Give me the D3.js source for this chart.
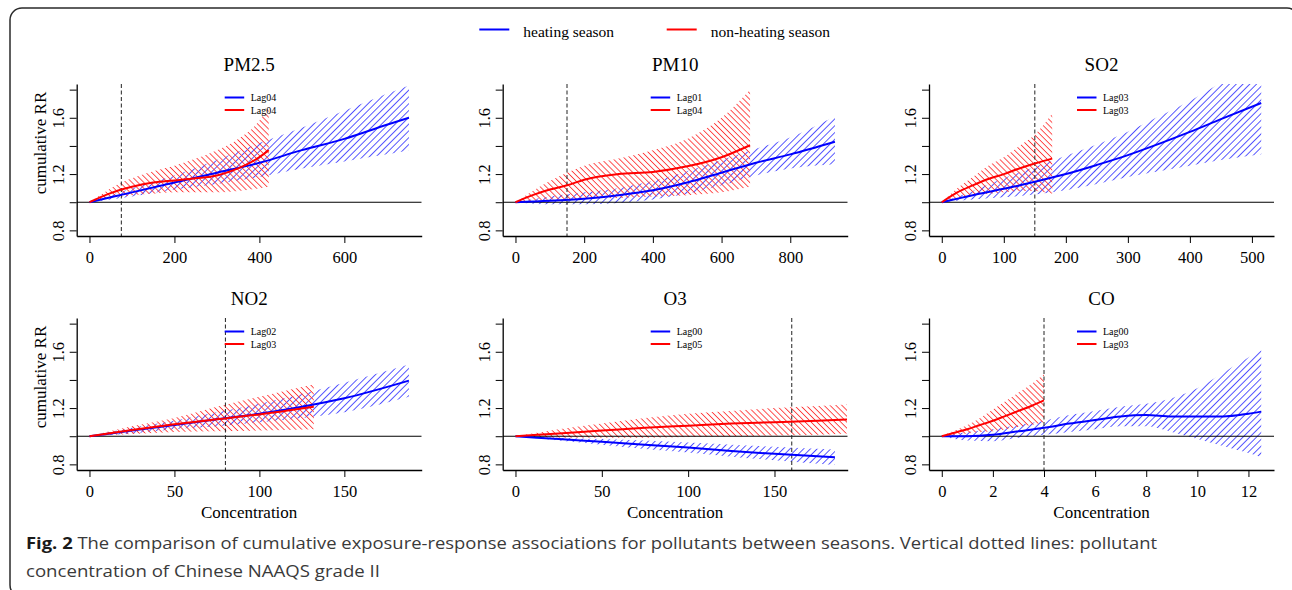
<!DOCTYPE html>
<html>
<head>
<meta charset="utf-8">
<script src="https://cdn.jsdelivr.net/npm/d3@7"></script>
<style>
  body { margin: 0; background: #fff; }
  svg { display: block; }
</style>
</head>
<body>
<script>
// panel order: PM2.5, PM10, SO2, NO2, O3, CO
const pollutants = ["PM2.5", "PM10", "SO2", "NO2", "O3", "CO"];
const heatingLags = ["Lag04", "Lag01", "Lag03", "Lag02", "Lag00", "Lag00"];
const nonHeatingLags = ["Lag04", "Lag04", "Lag03", "Lag03", "Lag05", "Lag03"];
const standards = [75, 150, 150, 80, 160, 4]; // NAAQS grade II
const xTickValues = [
  [0, 200, 400, 600],
  [0, 200, 400, 600, 800],
  [0, 100, 200, 300, 400, 500],
  [0, 50, 100, 150],
  [0, 50, 100, 150],
  [0, 2, 4, 6, 8, 10, 12]
];
const yTickValues = [0.8, 1.0, 1.2, 1.4, 1.6, 1.8];
const yTickLabels = ["0.8", "", "1.2", "", "1.6", ""];
const yLimits = [0.8, 1.8];

// heating season: concentration, cumulative RR, lower and upper CI
const heatingX = [
  [0, 100, 200, 300, 400, 500, 600, 700, 752],
  [0, 100, 200, 300, 400, 500, 600, 700, 800, 930],
  [0, 50, 100, 150, 200, 250, 300, 350, 400, 450, 515],
  [0, 25, 50, 75, 100, 125, 150, 188],
  [0, 25, 50, 75, 100, 125, 150, 185],
  [0, 1, 2, 3, 4, 5, 6, 7, 8, 9, 10, 11, 12, 12.5]
];
const heatingRR = [
  [1.0, 1.07, 1.14, 1.21, 1.28, 1.37, 1.45, 1.55, 1.60],
  [1.0, 1.01, 1.025, 1.05, 1.085, 1.14, 1.21, 1.28, 1.34, 1.43],
  [1.0, 1.05, 1.095, 1.145, 1.20, 1.265, 1.335, 1.415, 1.50, 1.59, 1.705],
  [1.0, 1.04, 1.08, 1.12, 1.16, 1.21, 1.27, 1.395],
  [1.0, 0.98, 0.96, 0.94, 0.92, 0.895, 0.875, 0.85],
  [1.0, 1.0, 1.01, 1.035, 1.06, 1.09, 1.115, 1.14, 1.15, 1.14, 1.14, 1.14, 1.16, 1.175]
];
const heatingLow = [
  [1.0, 1.04, 1.09, 1.13, 1.18, 1.24, 1.29, 1.34, 1.37],
  [1.0, 0.985, 0.985, 0.995, 1.02, 1.06, 1.12, 1.19, 1.24, 1.27],
  [1.0, 1.02, 1.035, 1.055, 1.085, 1.13, 1.18, 1.22, 1.26, 1.30, 1.34],
  [1.0, 1.02, 1.05, 1.07, 1.10, 1.13, 1.17, 1.28],
  [1.0, 0.97, 0.94, 0.91, 0.885, 0.855, 0.83, 0.795],
  [1.0, 0.97, 0.965, 0.99, 1.01, 1.03, 1.05, 1.07, 1.07, 1.03, 0.98, 0.93, 0.88, 0.85]
];
const heatingHigh = [
  [1.0, 1.10, 1.19, 1.30, 1.42, 1.53, 1.65, 1.77, 1.83],
  [1.0, 1.04, 1.07, 1.10, 1.15, 1.22, 1.30, 1.38, 1.46, 1.61],
  [1.0, 1.08, 1.17, 1.25, 1.33, 1.41, 1.50, 1.61, 1.72, 1.85, 2.05],
  [1.0, 1.06, 1.11, 1.17, 1.23, 1.30, 1.38, 1.51],
  [1.0, 0.99, 0.98, 0.97, 0.955, 0.94, 0.925, 0.905],
  [1.0, 1.03, 1.05, 1.08, 1.11, 1.15, 1.18, 1.21, 1.23, 1.27, 1.34, 1.45, 1.56, 1.61]
];

// non-heating season
const nonHeatingX = [
  [0, 25, 50, 75, 100, 150, 200, 250, 300, 350, 400, 422],
  [0, 50, 100, 150, 200, 300, 400, 500, 600, 683],
  [0, 25, 50, 75, 100, 125, 150, 178],
  [0, 25, 50, 75, 100, 132],
  [0, 25, 50, 75, 100, 125, 150, 175, 192],
  [0, 0.5, 1, 1.5, 2, 2.5, 3, 3.5, 4]
];
const nonHeatingRR = [
  [1.0, 1.035, 1.065, 1.09, 1.11, 1.14, 1.155, 1.17, 1.19, 1.24, 1.32, 1.37],
  [1.0, 1.05, 1.09, 1.12, 1.16, 1.20, 1.215, 1.255, 1.32, 1.405],
  [1.0, 1.07, 1.12, 1.165, 1.20, 1.24, 1.275, 1.31],
  [1.0, 1.045, 1.085, 1.12, 1.155, 1.21],
  [1.0, 1.02, 1.04, 1.06, 1.075, 1.09, 1.10, 1.11, 1.118],
  [1.0, 1.025, 1.05, 1.08, 1.11, 1.145, 1.18, 1.215, 1.255]
];
const nonHeatingLow = [
  [1.0, 1.02, 1.03, 1.04, 1.05, 1.06, 1.07, 1.07, 1.07, 1.08, 1.10, 1.11],
  [1.0, 1.01, 1.02, 1.02, 1.025, 1.03, 1.04, 1.05, 1.07, 1.11],
  [1.0, 1.03, 1.05, 1.06, 1.07, 1.08, 1.08, 1.06],
  [1.0, 1.015, 1.03, 1.035, 1.04, 1.05],
  [1.0, 0.99, 0.99, 0.99, 0.995, 1.0, 1.005, 1.01, 1.02],
  [1.0, 1.01, 1.02, 1.03, 1.035, 1.05, 1.065, 1.08, 1.10]
];
const nonHeatingHigh = [
  [1.0, 1.05, 1.10, 1.14, 1.17, 1.22, 1.26, 1.31, 1.37, 1.45, 1.58, 1.68],
  [1.0, 1.08, 1.15, 1.21, 1.26, 1.31, 1.37, 1.45, 1.60, 1.80],
  [1.0, 1.10, 1.18, 1.26, 1.32, 1.40, 1.48, 1.63],
  [1.0, 1.07, 1.13, 1.21, 1.28, 1.37],
  [1.0, 1.05, 1.09, 1.13, 1.16, 1.18, 1.20, 1.215, 1.225],
  [1.0, 1.04, 1.08, 1.13, 1.19, 1.25, 1.31, 1.37, 1.44]
];

const W = 1292, H = 590;
const serif = "'Liberation Serif', 'Times New Roman', serif";
const plotW = 345, plotH = 152;
const colLeft = [76.7, 502.7, 929];
const rowTop = [84, 318];

const svg = d3.select("body").append("svg")
  .attr("width", W)
  .attr("height", H);

// hatch patterns for the confidence bands
const defs = svg.append("defs");
function hatch(id, color, gap, angle) {
  const p = defs.append("pattern")
    .attr("id", id)
    .attr("patternUnits", "userSpaceOnUse")
    .attr("width", gap)
    .attr("height", gap)
    .attr("patternTransform", "rotate(" + angle + ")");
  p.append("line")
    .attr("x1", gap / 2).attr("y1", 0)
    .attr("x2", gap / 2).attr("y2", gap)
    .attr("stroke", color)
    .attr("stroke-width", 0.9);
}
hatch("hatchBlue", "#4646ff", 4.8, 45);
hatch("hatchRed", "#ff3a3a", 4.2, -45);

// outer frame
svg.append("rect")
  .attr("x", 10).attr("y", 8)
  .attr("width", 1289).attr("height", 589)
  .attr("rx", 12)
  .attr("fill", "none")
  .attr("stroke", "#2a2a2a")
  .attr("stroke-width", 1.5);

// season legend at the top
const seasonLegend = [
  { label: "heating season", color: "#0000ff", x: 479.3 },
  { label: "non-heating season", color: "#ff0000", x: 666.7 }
];
seasonLegend.forEach((d) => {
  svg.append("line")
    .attr("x1", d.x).attr("x2", d.x + 30)
    .attr("y1", 29.5).attr("y2", 29.5)
    .attr("stroke", d.color)
    .attr("stroke-width", 2);
  svg.append("text")
    .attr("x", d.x + 44)
    .attr("y", 36.5)
    .attr("font-family", serif)
    .attr("font-size", "15.5px")
    .text(d.label);
});

function toPoints(xs, rr, lo, hi) {
  return xs.map((x, k) => ({ x: x, rr: rr[k], lo: lo[k], hi: hi[k] }));
}

pollutants.forEach((name, i) => {
  const col = i % 3, row = Math.floor(i / 3);
  const left = colLeft[col], top = rowTop[row];
  const heat = toPoints(heatingX[i], heatingRR[i], heatingLow[i], heatingHigh[i]);
  const cool = toPoints(nonHeatingX[i], nonHeatingRR[i], nonHeatingLow[i], nonHeatingHigh[i]);

  // R style limits: data range stretched by 4% each side
  const xExt = d3.extent(heatingX[i]);
  const xPad = (xExt[1] - xExt[0]) * 0.04;
  const yPad = (yLimits[1] - yLimits[0]) * 0.04;
  const x = d3.scaleLinear()
    .domain([xExt[0] - xPad, xExt[1] + xPad])
    .range([left, left + plotW]);
  const y = d3.scaleLinear()
    .domain([yLimits[0] - yPad, yLimits[1] + yPad])
    .range([top + plotH, top]);

  const g = svg.append("g");
  const clipId = "clip" + i;
  defs.append("clipPath").attr("id", clipId)
    .append("rect")
    .attr("x", left).attr("y", top)
    .attr("width", plotW).attr("height", plotH);

  const plot = g.append("g").attr("clip-path", "url(#" + clipId + ")");

  const band = d3.area()
    .x((d) => x(d.x))
    .y0((d) => y(d.lo))
    .y1((d) => y(d.hi))
    .curve(d3.curveMonotoneX);
  const line = d3.line()
    .x((d) => x(d.x))
    .y((d) => y(d.rr))
    .curve(d3.curveMonotoneX);

  plot.append("path").datum(heat).attr("d", band).attr("fill", "url(#hatchBlue)");
  plot.append("path").datum(cool).attr("d", band).attr("fill", "url(#hatchRed)");

  // reference line RR = 1 and the standard
  plot.append("line")
    .attr("x1", left).attr("x2", left + plotW)
    .attr("y1", y(1)).attr("y2", y(1))
    .attr("stroke", "#000").attr("stroke-width", 1.1);
  plot.append("line")
    .attr("x1", x(standards[i])).attr("x2", x(standards[i]))
    .attr("y1", top).attr("y2", top + plotH)
    .attr("stroke", "#222").attr("stroke-width", 1)
    .attr("stroke-dasharray", "4,2.5");

  plot.append("path").datum(heat).attr("d", line)
    .attr("fill", "none").attr("stroke", "#0000ff").attr("stroke-width", 2);
  plot.append("path").datum(cool).attr("d", line)
    .attr("fill", "none").attr("stroke", "#ff0000").attr("stroke-width", 2);

  // axes (L shaped box)
  const xAxis = g.append("g")
    .attr("transform", "translate(0," + (top + plotH) + ")")
    .call(d3.axisBottom(x).tickValues(xTickValues[i]).tickSize(7).tickSizeOuter(0).tickPadding(8));
  const yAxis = g.append("g")
    .attr("transform", "translate(" + left + ",0)")
    .call(d3.axisLeft(y).tickValues(yTickValues).tickSize(7).tickSizeOuter(0)
      .tickFormat((d, k) => yTickLabels[k]));
  [xAxis, yAxis].forEach((a) => {
    a.select(".domain").attr("stroke", "#000").attr("stroke-width", 1.3);
    a.selectAll(".tick line").attr("stroke", "#000").attr("stroke-width", 1);
    a.selectAll("text")
      .attr("font-family", serif)
      .attr("font-size", "16.5px")
      .attr("fill", "#000");
  });
  yAxis.selectAll(".tick text")
    .attr("transform", "rotate(-90)")
    .attr("text-anchor", "middle")
    .attr("x", 0)
    .attr("y", -18.7)
    .attr("dy", "0.35em");

  // title
  g.append("text")
    .attr("x", left + plotW / 2)
    .attr("y", top - 13)
    .attr("text-anchor", "middle")
    .attr("font-family", serif)
    .attr("font-size", "19px")
    .text(name);

  if (col === 0) {
    g.append("text")
      .attr("transform", "translate(" + (left - 36.7) + "," + (top + 59) + ") rotate(-90)")
      .attr("text-anchor", "middle")
      .attr("dy", "0.35em")
      .attr("font-family", serif)
      .attr("font-size", "17px")
      .text("cumulative RR");
  }
  if (row === 1) {
    g.append("text")
      .attr("x", left + plotW / 2)
      .attr("y", top + plotH + 48)
      .attr("text-anchor", "middle")
      .attr("font-family", serif)
      .attr("font-size", "17px")
      .text("Concentration");
  }

  // lag legend, centred on the panel
  const cx = left + plotW / 2;
  [[heatingLags[i], "#0000ff"], [nonHeatingLags[i], "#ff0000"]].forEach((d, k) => {
    const ly = top + 13.5 + k * 12.5;
    g.append("line")
      .attr("x1", cx - 24.5).attr("x2", cx - 5)
      .attr("y1", ly).attr("y2", ly)
      .attr("stroke", d[1]).attr("stroke-width", 2);
    g.append("text")
      .attr("x", cx + 1.5)
      .attr("y", ly + 3.5)
      .attr("font-family", serif)
      .attr("font-size", "10px")
      .text(d[0]);
  });
});

// caption
const capFont = "'Open Sans', 'Noto Sans', sans-serif";
const cap1 = svg.append("text")
  .attr("x", 26).attr("y", 549)
  .attr("font-family", capFont)
  .attr("font-size", "16.5px")
  .attr("fill", "#3a3a3a")
  .attr("textLength", 1131)
  .attr("lengthAdjust", "spacingAndGlyphs");
cap1.append("tspan").attr("font-weight", "bold").attr("fill", "#1a1a1a").text("Fig. 2");
cap1.append("tspan").text(" The comparison of cumulative exposure-response associations for pollutants between seasons. Vertical dotted lines: pollutant");

svg.append("text")
  .attr("x", 26).attr("y", 577)
  .attr("font-family", capFont)
  .attr("font-size", "16.5px")
  .attr("fill", "#3a3a3a")
  .attr("textLength", 354)
  .attr("lengthAdjust", "spacingAndGlyphs")
  .text("concentration of Chinese NAAQS grade II");
</script>
</body>
</html>
